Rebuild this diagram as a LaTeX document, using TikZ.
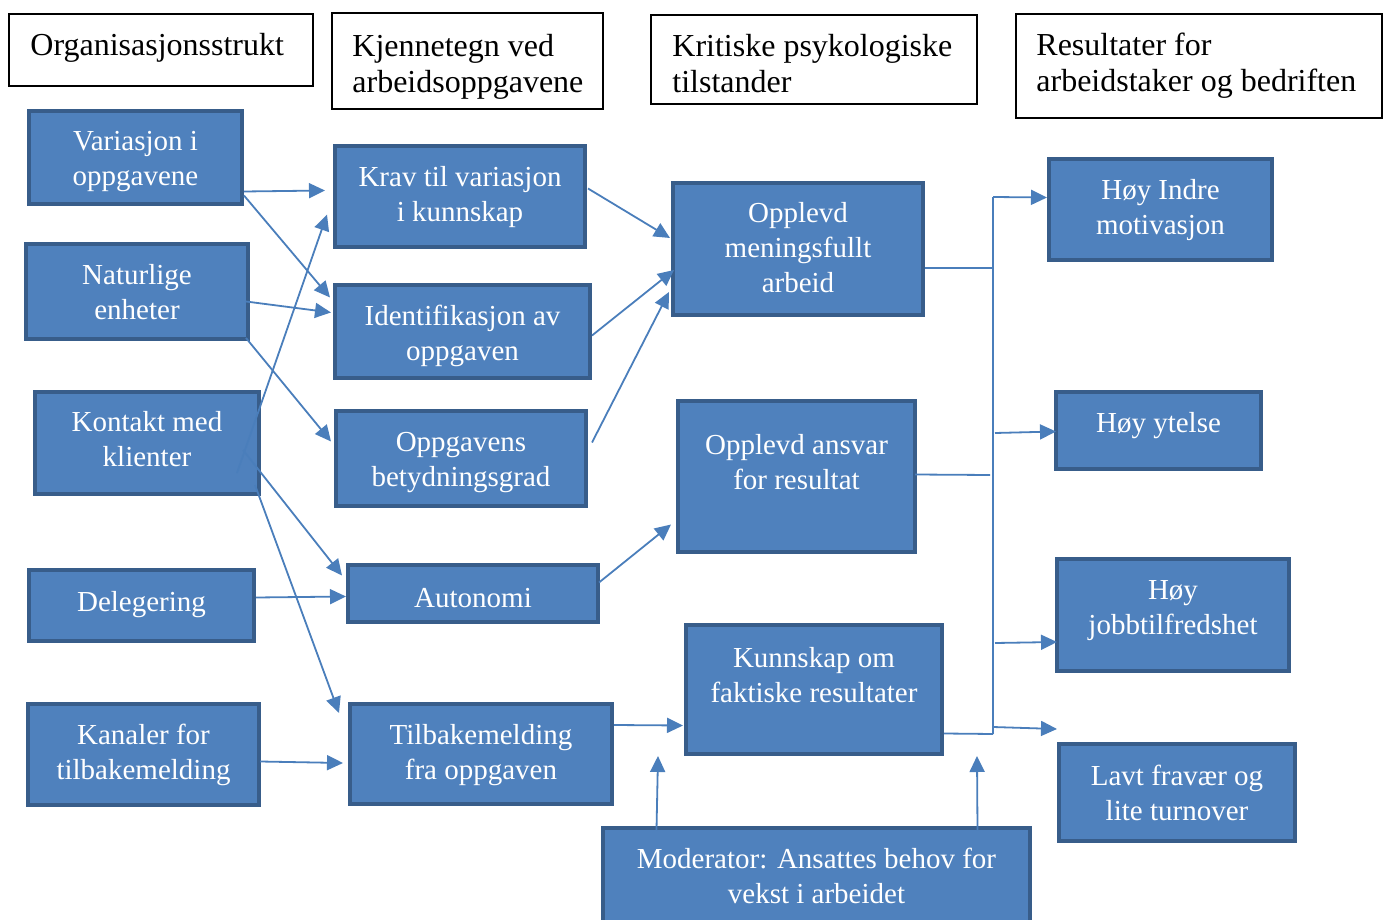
\documentclass[tikz,border=0pt]{standalone}
\usepackage{fontspec}
\setmainfont{Liberation Serif}
\usetikzlibrary{calc,arrows.meta}
\definecolor{boxfill}{HTML}{4F81BD}
\definecolor{boxedge}{HTML}{385D8A}
\definecolor{linkblue}{HTML}{4A7EBB}
\newcommand\blk[7]{\node[blue box,minimum width={(#4-#2-4)*0.5pt},minimum height={(#5-#3-4)*0.5pt}](#1)at({(#2+#4)/2},{(#3+#5)/2}){};
\node[box text](#1-t)at({(#2+#4)/2},#6){#7};}
\newcommand\hd[8]{\node[head box,minimum width={(#4-#2)*0.5pt},minimum height={(#5-#3)*0.5pt}](#1)at({(#2+#4)/2},{(#3+#5)/2}){};
\node[head text](#1-t)at(#6,#7){#8};}
\begin{document}
\begin{tikzpicture}[x=0.5pt,y=-0.5pt]
% Box and text styles
\tikzstyle{blue box}=[draw=boxedge,fill=boxfill,line width=2pt,inner sep=0,outer sep=0];
\tikzstyle{box text}=[text=white,align=center,inner sep=0,font=\fontsize{14.5}{17.5}\selectfont,
  execute at begin node=\strut,execute at end node=\strut];
\tikzstyle{head box}=[draw,line width=0.6pt,inner sep=0];
\tikzstyle{head text}=[align=left,anchor=west,inner sep=0,font=\fontsize{16}{18}\selectfont,
  execute at begin node=\strut,execute at end node=\strut];
\tikzstyle{link}=[draw=linkblue,line width=0.9pt,->,>={Triangle[length=8pt,width=7.5pt]}];
\tikzstyle{wire}=[draw=linkblue,line width=0.9pt];
\useasboundingbox(0,0)rectangle(1388,920);
\clip(0,0)rectangle(1388,920);
% headings
\hd{h1}{9}{14}{313}{86}{30}{48}{Organisasjonsstrukt}
\hd{h2}{332}{13}{603}{109}{352}{69}{Kjennetegn ved\\arbeidsoppgavene}
\hd{h3}{651}{15}{977}{104}{672}{69}{Kritiske psykologiske\\tilstander}
\hd{h4}{1016}{14}{1382}{118}{1036}{68}{Resultater for\\arbeidstaker og bedriften}
% organisation
\blk{var}{27}{109}{244}{206}{163.5}{Variasjon i\\oppgavene}
\blk{nat}{24}{242}{250}{341}{297.5}{Naturlige\\enheter}
\blk{kon}{33}{390}{261}{496}{444.5}{Kontakt med\\klienter}
\blk{del}{27}{568}{256}{643}{604}{Delegering}
\blk{kan}{26}{702}{261}{807}{757}{Kanaler for\\tilbakemelding}
% task features
\blk{krav}{333}{144}{587}{249}{199.5}{Krav til variasjon\\i kunnskap}
\blk{ident}{333}{283}{592}{380}{338}{Identifikasjon av\\oppgaven}
\blk{betyd}{334}{409}{588}{508}{464.5}{Oppgavens\\betydningsgrad}
\blk{auto}{346}{563}{600}{624}{600}{Autonomi}
\blk{tilb}{348}{702}{614}{806}{757}{Tilbakemelding\\fra oppgaven}
% critical states
\blk{mening}{671}{181}{925}{317}{253}{Opplevd\\meningsfullt\\arbeid}
\blk{ansvar}{676}{399}{917}{554}{467.5}{Opplevd ansvar\\for resultat}
\blk{kunn}{684}{623}{944}{756}{680}{Kunnskap om\\faktiske resultater}
\blk{mod}{601}{826}{1032}{945}{881}{Moderator: Ansattes behov for\\vekst i arbeidet}
% results
\blk{motiv}{1047}{157}{1274}{262}{212}{Høy Indre\\motivasjon}
\blk{ytelse}{1054}{390}{1263}{471}{425}{Høy ytelse}
\blk{tilfr}{1055}{557}{1291}{673}{613}{Høy\\jobbtilfredshet}
\blk{fravaer}{1057}{742}{1297}{843}{798}{Lavt fravær og\\lite turnover}
% links to task features
\draw[link]($(var.east)+(2,34)$)--($(krav.west)+(-10,-6)$);
\draw[link]($(var.east)+(2,38)$)--($(ident.west)+(-5,-34)$);
\draw[link]($(nat.east)+(-2,10)$)--($(ident.west)+(-4,-19)$);
\draw[link]($(nat.south east)+(-2,-1)$)--($(betyd.west)+(-5,-17)$);
\draw[link]($(kon.east)+(-22,30)$)--($(krav.west)+(-8,18)$);
\draw[link]($(kon.east)+(-16,7)$)--($(auto.west)+(-6,-18)$);
\draw[link]($(kon.east)+(-4,42)$)--($(tilb.west)+(-11,-41)$);
\draw[link]($(del.east)+(2,-8)$)--($(auto.west)+(-2,3)$);
\draw[link]($(kan.east)+(1,7)$)--($(tilb.west)+(-7,9)$);
% links to critical states
\draw[link]($(krav.east)+(3,-8)$)--($(mening.west)+(-3,-11)$);
\draw[link]($(ident.east)+(2,4)$)--($(mening.west)+(1,21)$);
\draw[link]($(betyd.east)+(6,-16)$)--($(mening.west)+(-4,43)$);
\draw[link]($(auto.east)+(1,-11)$)--($(ansvar.west)+(-7,48)$);
\draw[link]($(tilb.east)+(2,-29)$)--($(kunn.west)+(-3,36)$);
% moderator
\draw[link]($(mod.north)+(-160,2)$)--($(kunn.south west)+(-28,2)$);
\draw[link]($(mod.north)+(161,2)$)--($(kunn.south east)+(35,2)$);
% bus to results
\coordinate(bus-top)at(993,197);
\coordinate(bus-bot)at(993,734);
\coordinate(bus-end)at($(fravaer.north west)+(-2,-15)$);
\draw[wire](bus-top)--(bus-bot);
\draw[wire]($(mening.east)+(2,19)$)--($(bus-top)+(0,71)$);
\draw[wire]($(ansvar.east)+(0,-2)$)--($(bus-top)+(-3,278)$);
\draw[wire]($(kunn.east)+(2,44)$)--(bus-bot);
\draw[link](bus-top)--($(motiv.west)+(-2,-12)$);
\draw[link]($(bus-top)+(2,236)$)--($(ytelse.west)+(0,1)$);
\draw[link]($(bus-top)+(2,446)$)--($(tilfr.west)+(0,27)$);
\draw[link]($(bus-top)+(0,530)$)--(bus-end);
\end{tikzpicture}
\end{document}
